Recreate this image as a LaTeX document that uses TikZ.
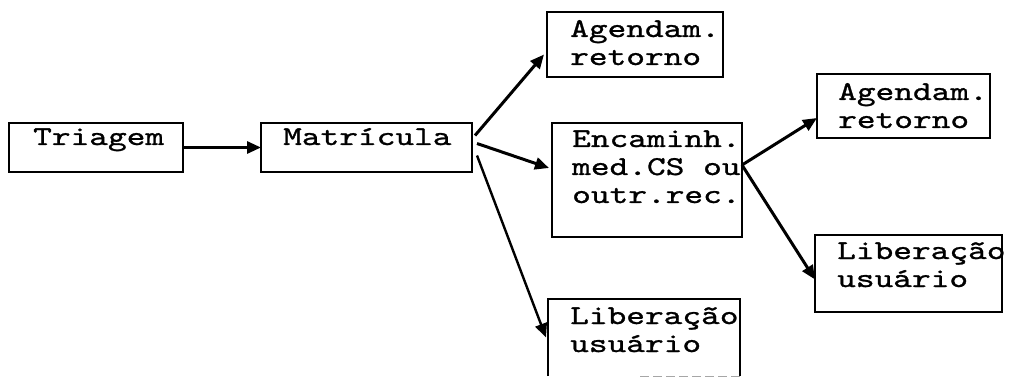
\documentclass[tikz,border=0pt]{standalone}
\usepackage{fontspec}
\usetikzlibrary{arrows.meta}
\newfontfamily\typer[FakeStretch=1.31,FakeBold=1.0]{lmmono10-regular.otf}

\begin{document}
\begin{tikzpicture}[x=1pt,y=-1pt,
  stepbox/.style={draw,line width=2.4pt,anchor=north west,inner sep=0pt,outer sep=0pt},
  openbox/.style={anchor=north west,inner sep=0pt,outer sep=0pt},
  boxtext/.style={anchor=base west,inner sep=0pt,align=left,
    font=\typer\fontsize{27.2}{28}\selectfont},
  flow/.style={line width=3pt,-{Triangle[length=14pt,width=12pt]}},
]
\useasboundingbox (0,0) rectangle (1010,377);

% boxes
\node[stepbox,minimum width=174pt,minimum height=49pt] (T)  at (9,123) {};
\node[stepbox,minimum width=211pt,minimum height=49pt] (M)  at (261,123) {};
\node[stepbox,minimum width=176pt,minimum height=65pt] (A1) at (547,12) {};
\node[stepbox,minimum width=190pt,minimum height=114pt] (E) at (552,123) {};
\node[openbox,minimum width=192pt,minimum height=77pt] (L1) at (548,299) {};
\node[stepbox,minimum width=173pt,minimum height=64pt] (A2) at (817,74) {};
\node[stepbox,minimum width=187pt,minimum height=77pt] (L2) at (815,235) {};

% the lower box runs off the page: sides only, faint remains of its bottom
\draw[line width=2.4pt] (L1.south west) -- (L1.north west) -- (L1.north east) -- (L1.south east);
\draw[black!35,line width=1pt,dash pattern=on 9pt off 4pt] ([xshift=92pt]L1.south west) -- (L1.south east);

% texts (placed at the baseline of their last line)
\node[boxtext] (tT)  at (33,145) {Triagem};
\node[boxtext] (tM)  at (283,145) {Matrícula};
\node[boxtext] (tA1) at (570,65) {Agendam.\\retorno};
\node[boxtext] (tE)  at (572,203) {Encaminh.\\med.CS ou\\outr.rec.};
\node[boxtext] (tL1) at (570,352) {Liberação\\usuário};
\node[boxtext] (tA2) at (838,128) {Agendam.\\retorno};
\node[boxtext] (tL2) at (837,287) {Liberação\\usuário};

% connectors
\draw[flow] (T.east) -- (M.west);
\draw[flow] ([xshift=3pt,yshift=12pt]M.east) -- ([xshift=-3pt,yshift=-10pt]A1.west);
\draw[flow] ([xshift=5pt,yshift=4pt]M.east) -- ([xshift=-3pt,yshift=12pt]E.west);
\draw[flow,line width=2.4pt] ([xshift=5pt,yshift=-8pt]M.east) -- ([xshift=-2pt]L1.west);
\draw[flow] ([yshift=15pt]E.east) -- ([yshift=-12pt]A2.west);
\draw[flow] ([yshift=15pt]E.east) -- ([yshift=-6pt]L2.west);
\end{tikzpicture}
\end{document}
